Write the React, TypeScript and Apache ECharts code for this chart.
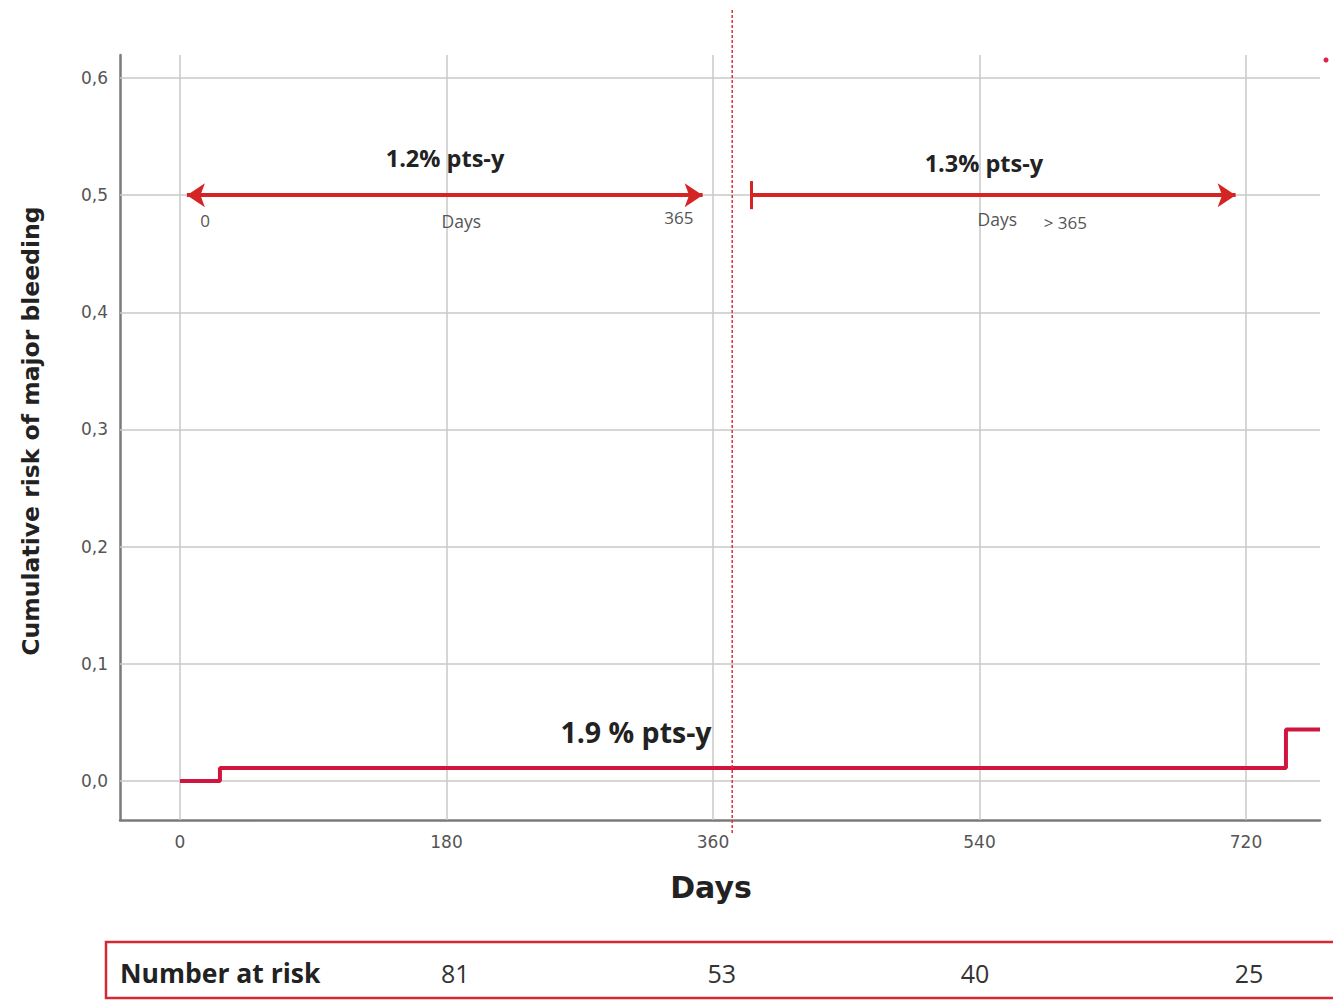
import React, { useEffect, useRef } from "react";
import * as echarts from "echarts";

// ---- data ----
const xTicks = [0, 180, 360, 540, 720];
const yTicks = [0, 0.1, 0.2, 0.3, 0.4, 0.5, 0.6];
const stepDays = [0, 27, 747, 770];
const stepRisk = [0, 0.011, 0.044, 0.044];
const cutoffDay = 373;
const arrowLevel = 0.5;
const firstPeriod = [4.7, 353];
const secondPeriod = [386, 713];
const riskLabel = "Number at risk";
const riskCounts = ["81", "53", "40", "25"];
const riskDays = [186, 366, 537, 722];
const annotations = [
  { text: "1.2% pts-y", day: 179, value: 0.532, size: 23.5, bold: true, color: "#222" },
  { text: "0", day: 17, value: 0.478, size: 17, bold: false, color: "#555" },
  { text: "Days", day: 190, value: 0.478, size: 17.5, bold: false, color: "#555" },
  { text: "365", day: 337, value: 0.481, size: 17, bold: false, color: "#555" },
  { text: "1.3% pts-y", day: 543, value: 0.527, size: 23.5, bold: true, color: "#222" },
  { text: "Days", day: 552, value: 0.4795, size: 17.5, bold: false, color: "#555" },
  { text: "> 365", day: 598, value: 0.477, size: 17, bold: false, color: "#555" },
  { text: "1.9 % pts-y", day: 308, value: 0.042, size: 28.5, bold: true, color: "#222" },
];

const CAL = "'Open Sans', Lato, 'Noto Sans', sans-serif";
const DEJA = "'DejaVu Sans', 'Liberation Sans', sans-serif";
const STEP_RED = "#d0163f";
const ARROW_RED = "#d42424";

export default function App() {
  const ref = useRef<HTMLDivElement>(null);
  useEffect(() => {
    if (!ref.current) return;
    const chart = echarts.init(ref.current, undefined, { renderer: "svg" });
    const stepData = stepDays.map((d, i) => [d, stepRisk[i]]);
    chart.setOption({
      animation: false,
      backgroundColor: "#fff",
      grid: { left: 120, right: 13, top: 55, bottom: 182 },
      xAxis: {
        type: "value",
        min: -40.5,
        max: 770,
        splitLine: { show: false },
        axisTick: { show: false },
        axisLine: { show: true, onZero: false, lineStyle: { color: "#7a7a7a", width: 2.5 } },
        axisLabel: {
          customValues: xTicks,
          color: "#555",
          fontSize: 17,
          fontFamily: DEJA,
          margin: 13,
        },
      },
      yAxis: {
        type: "value",
        min: -0.0333,
        max: 0.6196,
        splitLine: { show: false },
        axisTick: { show: false },
        axisLine: { show: true, onZero: false, lineStyle: { color: "#7a7a7a", width: 2.5 } },
        axisLabel: {
          customValues: yTicks,
          color: "#555",
          fontSize: 17,
          fontFamily: DEJA,
          margin: 12,
          formatter: (v: number) => v.toFixed(1).replace(".", ","),
        },
      },
      series: [
        {
          type: "line",
          data: [],
          silent: true,
          z: 1,
          markLine: {
            silent: true,
            symbol: ["none", "none"],
            label: { show: false },
            lineStyle: { color: "#c8c8c8", width: 1.5, type: "solid" },
            data: [
              ...xTicks.map((t) => ({ xAxis: t })),
              ...yTicks.map((t) => ({ yAxis: t })),
            ],
          },
        },
        {
          type: "line",
          data: stepData,
          step: "end",
          showSymbol: false,
          symbol: "none",
          z: 5,
          lineStyle: { color: STEP_RED, width: 4 },
        },
        {
          type: "line",
          data: [],
          z: 4,
          markLine: {
            silent: true,
            symbol: ["arrow", "arrow"],
            symbolSize: 18,
            label: { show: false },
            lineStyle: { color: ARROW_RED, width: 4, type: "solid" },
            data: [
              [
                { coord: [firstPeriod[0], arrowLevel] },
                { coord: [firstPeriod[1], arrowLevel] },
              ],
            ],
          },
        },
        {
          type: "line",
          data: [],
          z: 4,
          markLine: {
            silent: true,
            symbol: ["none", "arrow"],
            symbolSize: 18,
            label: { show: false },
            lineStyle: { color: ARROW_RED, width: 4, type: "solid" },
            data: [
              [
                { coord: [secondPeriod[0], arrowLevel] },
                { coord: [secondPeriod[1], arrowLevel] },
              ],
            ],
          },
        },
        {
          type: "line",
          data: [],
          z: 4,
          markLine: {
            silent: true,
            symbol: ["none", "none"],
            label: { show: false },
            lineStyle: { color: ARROW_RED, width: 3, type: "solid" },
            data: [
              [
                { coord: [secondPeriod[0], arrowLevel - 0.012] },
                { coord: [secondPeriod[0], arrowLevel + 0.012] },
              ],
            ],
          },
        },
      ],
    });

    const px = (d: number, v: number) =>
      chart.convertToPixel({ xAxisIndex: 0, yAxisIndex: 0 }, [d, v]) as number[];

    const cut = px(cutoffDay, 0);
    const graphics: any[] = [];
    graphics.push({
      type: "line",
      z: 10,
      silent: true,
      shape: { x1: cut[0], y1: 10, x2: cut[0], y2: 835 },
      style: { stroke: "#e0303f", lineWidth: 1.5, lineDash: [3, 2] },
    });
    annotations.forEach((a) => {
      const p = px(a.day, a.value);
      graphics.push({
        type: "text",
        x: p[0],
        y: p[1],
        z: 20,
        style: {
          text: a.text,
          fontSize: a.size,
          fontWeight: a.bold ? "bold" : "normal",
          fontFamily: CAL,
          fill: a.color,
          align: "center",
          verticalAlign: "middle",
        },
      });
    });
    // axis titles
    graphics.push({
      type: "text",
      x: 711,
      y: 887,
      style: {
        text: "Days",
        fontSize: 30,
        fontWeight: "bold",
        fontFamily: DEJA,
        fill: "#222",
        align: "center",
        verticalAlign: "middle",
      },
    });
    graphics.push({
      type: "text",
      x: 31,
      y: 431,
      rotation: Math.PI / 2,
      style: {
        text: "Cumulative risk of major bleeding",
        fontSize: 23.5,
        fontWeight: "bold",
        fontFamily: DEJA,
        fill: "#222",
        align: "center",
        verticalAlign: "middle",
      },
    });
    // number at risk box
    graphics.push({
      type: "rect",
      shape: { x: 106, y: 942, width: 1240, height: 56 },
      style: { fill: "none", stroke: "#d42a35", lineWidth: 2.5 },
    });
    graphics.push({
      type: "text",
      x: 120,
      y: 973,
      style: {
        text: riskLabel,
        fontSize: 26.5,
        fontWeight: "bold",
        fontFamily: CAL,
        fill: "#222",
        align: "left",
        verticalAlign: "middle",
      },
    });
    riskCounts.forEach((c, i) => {
      const p = px(riskDays[i], 0);
      graphics.push({
        type: "text",
        x: p[0],
        y: 973,
        style: {
          text: c,
          fontSize: 25,
          fontFamily: CAL,
          fill: "#333",
          align: "center",
          verticalAlign: "middle",
        },
      });
    });
    graphics.push({
      type: "circle",
      shape: { cx: 1326, cy: 60, r: 2.5 },
      style: { fill: "#e0204a" },
    });
    chart.setOption({ graphic: graphics });

    return () => chart.dispose();
  }, []);
  return (
    <div
      ref={ref}
      style={{ position: "fixed", left: 0, top: 0, width: 1333, height: 1002 }}
    />
  );
}
